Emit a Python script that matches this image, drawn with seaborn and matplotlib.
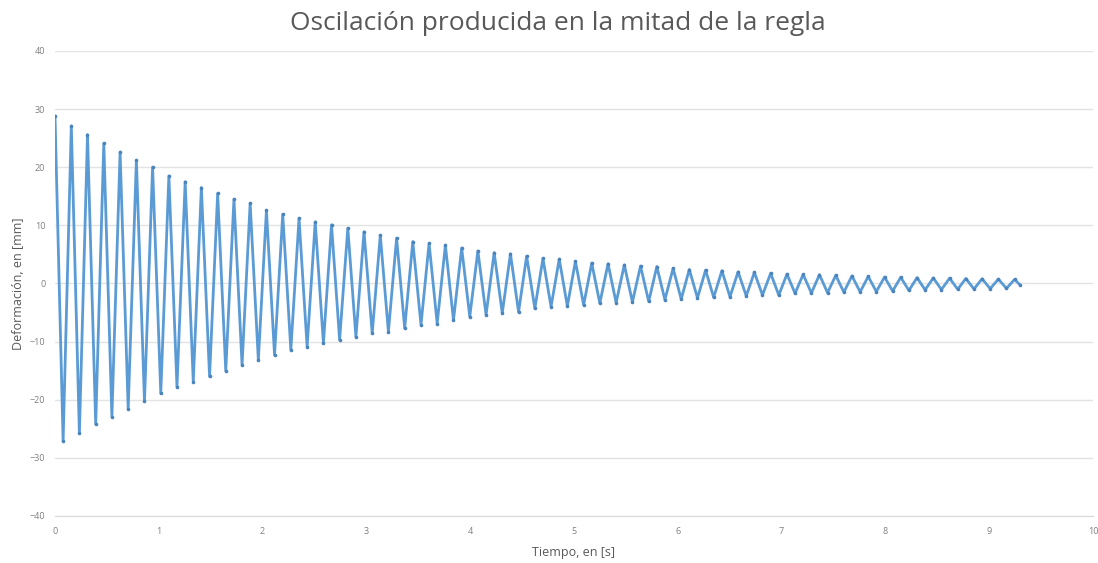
import pandas as pd
import seaborn as sns
import matplotlib.pyplot as plt

# peaks and troughs (time in s, deformation in mm)
peak_t = [0.000, 0.157, 0.313, 0.470, 0.627, 0.784, 0.940, 1.097, 1.254, 1.410,
          1.567, 1.724, 1.880, 2.037, 2.194, 2.351, 2.507, 2.664, 2.821, 2.977,
          3.134, 3.291, 3.447, 3.604, 3.761, 3.918, 4.074, 4.231, 4.388, 4.544,
          4.701, 4.858, 5.014, 5.171, 5.328, 5.485, 5.641, 5.798, 5.955, 6.111,
          6.268, 6.425, 6.581, 6.738, 6.895, 7.052, 7.208, 7.365, 7.522, 7.678,
          7.835, 7.992, 8.148, 8.305, 8.462, 8.619, 8.775, 8.932, 9.089, 9.245]
peak_v = [28.8, 27.1, 25.6, 24.1, 22.6, 21.2, 20.0, 18.5, 17.5, 16.5,
          15.5, 14.5, 13.8, 12.6, 11.9, 11.2, 10.6, 10.1, 9.5, 8.9,
          8.3, 7.8, 7.2, 6.9, 6.6, 6.1, 5.6, 5.3, 5.1, 4.7,
          4.3, 4.2, 3.8, 3.5, 3.4, 3.2, 3.0, 2.9, 2.6, 2.4,
          2.3, 2.2, 2.0, 1.9, 1.75, 1.6, 1.55, 1.5, 1.4, 1.3,
          1.2, 1.1, 1.05, 1.0, 0.95, 0.9, 0.85, 0.8, 0.75, 0.7]
trough_t = [0.078, 0.235, 0.392, 0.548, 0.705, 0.862, 1.019, 1.175, 1.332, 1.489,
            1.645, 1.802, 1.959, 2.115, 2.272, 2.429, 2.586, 2.742, 2.899, 3.056,
            3.212, 3.369, 3.526, 3.682, 3.839, 3.996, 4.153, 4.309, 4.466, 4.623,
            4.779, 4.936, 5.093, 5.249, 5.406, 5.563, 5.720, 5.876, 6.033, 6.190,
            6.346, 6.503, 6.660, 6.816, 6.973, 7.130, 7.287, 7.443, 7.600, 7.757,
            7.913, 8.070, 8.227, 8.383, 8.540, 8.697, 8.854, 9.010, 9.167, 9.300]
trough_v = [-27.1, -25.8, -24.2, -22.9, -21.6, -20.3, -18.9, -17.8, -16.9, -16.0,
            -15.0, -14.0, -13.2, -12.3, -11.4, -10.9, -10.3, -9.7, -9.2, -8.6,
            -8.3, -7.7, -7.1, -6.9, -6.3, -5.7, -5.4, -5.1, -4.9, -4.3,
            -4.0, -3.9, -3.7, -3.4, -3.3, -3.2, -3.1, -2.8, -2.7, -2.5,
            -2.4, -2.3, -2.15, -2.0, -2.0, -1.7, -1.65, -1.6, -1.5, -1.45,
            -1.4, -1.3, -1.2, -1.1, -1.05, -1.0, -0.95, -0.9, -0.85, -0.3]

y_ticks = [-40, -30, -20, -10, 0, 10, 20, 30, 40]
x_ticks = [0, 1, 2, 3, 4, 5, 6, 7, 8, 9, 10]

data = pd.DataFrame({'t': peak_t + trough_t, 'd': peak_v + trough_v})
data = data.sort_values('t')

sns.set_style('white')
plt.rcParams['font.family'] = ['Open Sans', 'DejaVu Sans']

fig = plt.figure(figsize=(10.98, 5.63), dpi=100)
ax = fig.add_axes([0.0501, 0.0835, 0.9453, 0.826])

sns.lineplot(data=data, x='t', y='d', ax=ax, color='#5B9BD5', linewidth=2.0,
             marker='o', markersize=2.6, markeredgewidth=0, markerfacecolor='#4a84bb')

ax.set_xlim(0, 10)
ax.set_ylim(-40, 40)
ax.set_yticks(y_ticks)
ax.set_xticks(x_ticks)
ax.yaxis.grid(True, color='#e3e3e3', linewidth=1)
ax.xaxis.grid(False)
for s in ['left', 'right', 'top']:
    ax.spines[s].set_visible(False)
ax.spines['bottom'].set_color('#d9d9d9')
ax.tick_params(axis='both', length=0, labelsize=6.5, colors='#7f7f7f')
ax.tick_params(axis='x', pad=8)
ax.tick_params(axis='y', pad=7)

ax.set_xlabel('Tiempo, en [s]', fontsize=9, color='#595959', labelpad=7)
ax.set_ylabel('Deformación, en [mm]', fontsize=9, color='#595959', labelpad=3)
fig.text(0.508, 0.958, 'Oscilación producida en la mitad de la regla',
         fontsize=19, color='#595959', ha='center', va='center')

fig.savefig('out.png', dpi=100)
